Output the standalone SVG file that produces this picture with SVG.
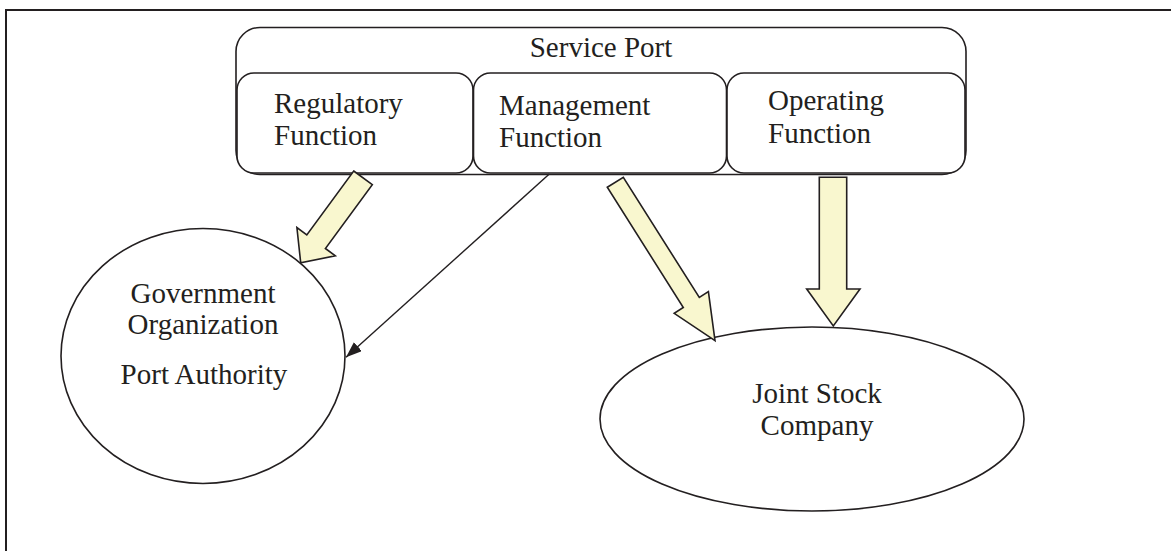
<svg xmlns="http://www.w3.org/2000/svg" width="1171" height="551" viewBox="0 0 1171 551">
  <style>
    .frame { fill: none; stroke: #231f20; stroke-width: 2; }
    .box { fill: #ffffff; stroke: #231f20; stroke-width: 1.6; }
    .node { fill: #ffffff; stroke: #231f20; stroke-width: 1.6; }
    .label { font-family: "Liberation Serif", "Times New Roman", serif; font-size: 29px; fill: #231f20; }
    .mid { text-anchor: middle; }
    .block { fill: #f9f7cf; stroke: #231f20; stroke-width: 1.6; stroke-linejoin: miter; }
    .thin { fill: none; stroke: #231f20; stroke-width: 1.4; }
  </style>
  <defs>
    <marker id="head" markerUnits="userSpaceOnUse" markerWidth="18" markerHeight="12" refX="16" refY="6" orient="auto">
      <path d="M0,0 L16,6 L0,12 Z" fill="#231f20"/>
    </marker>
  </defs>

  <rect width="1171" height="551" fill="#ffffff"/>

  <!-- page frame (top and left edges only) -->
  <path class="frame" d="M6,551 V10 H1171"/>

  <!-- service port container with its three functions -->
  <g id="service-port">
    <rect class="box" x="236" y="27.5" width="730" height="147" rx="24" ry="24"/>
    <text class="label mid" x="601" y="57">Service Port</text>
  </g>
  <g id="regulatory-function">
    <rect class="box" x="237" y="73" width="236" height="100" rx="17" ry="17"/>
    <text class="label" x="274" y="113">Regulatory</text>
    <text class="label" x="274" y="145">Function</text>
  </g>
  <g id="management-function">
    <rect class="box" x="473.5" y="73" width="253" height="100" rx="17" ry="17"/>
    <text class="label" x="499" y="114.5">Management</text>
    <text class="label" x="499" y="146.5">Function</text>
  </g>
  <g id="operating-function">
    <rect class="box" x="727" y="73" width="238" height="100" rx="17" ry="17"/>
    <text class="label" x="768" y="110">Operating</text>
    <text class="label" x="768" y="142.5">Function</text>
  </g>

  <!-- organisations -->
  <g id="government-organization">
    <ellipse class="node" cx="203" cy="356" rx="142" ry="127.5"/>
    <text class="label mid" x="203" y="302.5">Government</text>
    <text class="label mid" x="203" y="333.5">Organization</text>
    <text class="label mid" x="204" y="384">Port Authority</text>
  </g>
  <g id="joint-stock-company">
    <ellipse class="node" cx="812" cy="419" rx="212" ry="92"/>
    <text class="label mid" x="817" y="403">Joint Stock</text>
    <text class="label mid" x="817" y="435">Company</text>
  </g>

  <!-- connectors -->
  <g id="connectors">
    <polygon class="block" points="353.7,171 372.3,184.6 325.4,248.5 335.3,255.8 300.7,262.7 296.9,227.6 306.8,234.9"/>
    <line class="thin" x1="549.3" y1="174" x2="346" y2="357.3" marker-end="url(#head)"/>
    <polygon class="block" points="607.3,187.3 623.3,177.3 699.3,297.5 708.4,291.7 715,340.7 674.2,313.3 683.3,307.5"/>
    <polygon class="block" points="819.3,177.3 846.7,177.3 846.7,289 860,289 833.3,326 806.7,289 819.3,289"/>
  </g>
</svg>
